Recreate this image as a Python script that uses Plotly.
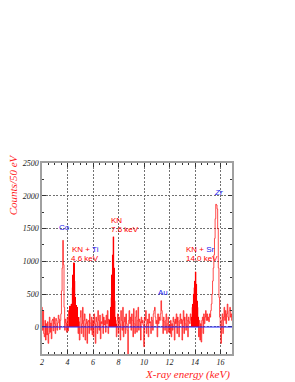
import plotly.graph_objects as go

# 50 eV bins, bin centres from 2.0 keV
bin_start = 2.0
bin_width = 0.05
counts = [
    # 2.0 - 2.95
    300, -50, 250, -100, -150, 100, -200, 50, -120, 80, -250, -100, 150, -80, 60, -180, 100, 120, -60, 150,
    # 3.0 - 3.95
    50, -100, 130, 100, -50, 60, 180, 120, -40, 100, 200, 550, 900, 1320, 950, 300, -50, 120, 60, -80,
    # 4.0 - 4.95
    150, -60, 250, 100, 320, 300, 350, 320, 600, 800, 980, 700, 450, 330, 250, 300, 150, -100, 80, -200,
    # 5.0 - 5.95
    150, 250, -100, 50, 300, -150, 100, 200, -200, 50, 120, -250, 80, 100, -100, 200, 60, -50, 150, -120,
    # 6.0 - 6.95
    100, -150, 200, 50, -250, 150, 80, -100, 250, 100, -50, 180, -180, 80, 50, 200, -100, 150, 30, 100,
    # 7.0 - 7.95
    -80, 180, 50, 250, -100, 120, 80, 100, 300, 450, 800, 1100, 1375, 900, 400, 150, 50, -150, 100, 200,
    # 8.0 - 8.95
    -100, 150, 50, -200, 250, 100, -50, 300, -150, 80, 150, -100, 200, 50, -50, -420, 100, 250, 50, 150,
    # 9.0 - 9.95
    -50, 200, 100, -150, 280, 50, -100, 150, 250, -80, 100, 300, -50, 120, 80, -200, 150, 60, 100, 30,
    # 10.0 - 10.95
    -300, 150, 100, 250, -100, 50, 120, -150, 200, 60, 80, -100, 150, 100, -50, 200, 250, 300, 150, 50,
    # 11.0 - 11.95
    100, -150, 200, 50, 150, 100, 200, 400, 250, 100, -100, 150, 80, -50, 100, 200, -100, 50, 150, -80,
    # 12.0 - 12.95
    30, -100, 100, -150, 50, -50, 150, 80, -200, 120, 50, 200, -100, 150, 80, -150, 100, 200, 50, 120,
    # 13.0 - 13.95
    -200, 100, 250, -100, 150, 50, -50, 200, 100, -150, 150, 80, 50, 200, 100, 150, 300, 350, 500, 600,
    # 14.0 - 14.95
    700, 840, 650, 400, 300, 150, -150, 100, -200, 50, -230, 100, 150, -100, 200, 50, 150, 250, 100, 200,
    # 15.0 - 15.95
    100, 150, 80, 200, 150, 250, 350, 500, 700, 900, 1100, 1350, 1650, 1870, 1860, 1800, 1500, 900, 450, 150,
    # 16.0 - 16.95
    0, -250, 100, 200, -100, 150, 300, 100, 250, 50, 200, 350, 150, 100, 250, 300, 150, 200, 100, 250,
]
energy = [round(bin_start + i * bin_width, 3) for i in range(len(counts))]

# KN peak regions drawn filled (keV)
kn_regions = [(4.2, 4.8), (7.35, 7.8), (13.75, 14.25)]

x_ticks = [2, 4, 6, 8, 10, 12, 14, 16]
y_ticks = [0, 500, 1000, 1500, 2000, 2500]

labels = [
    # text, x (keV), y (counts), anchor
    ("<span style='color:#2222ee'>Co</span>", 3.73, 1510, "center"),
    ("KN + <span style='color:#2222ee'>Ti</span>", 4.2, 1175, "left"),
    ("4.6 keV", 4.1, 1045, "left"),
    ("KN", 7.25, 1630, "left"),
    ("7.6 keV", 7.25, 1480, "left"),
    ("<span style='color:#2222ee'>Au</span>", 11.45, 530, "center"),
    ("KN + <span style='color:#2222ee'>Sr</span>", 13.15, 1175, "left"),
    ("14.0 keV", 13.1, 1045, "left"),
    ("<span style='color:#2222ee'><i>Zr</i></span>", 15.88, 2050, "center"),
]

fig = go.Figure()

fig.add_trace(go.Scatter(
    x=energy, y=counts, mode="lines", line_shape="hvh",
    line=dict(color="rgba(255,0,0,0.7)", width=1), showlegend=False,
))

fx, fy = [], []
for e, c in zip(energy, counts):
    for lo, hi in kn_regions:
        if lo - 1e-9 <= e <= hi + 1e-9:
            fx.append(e)
            fy.append(c)
fig.add_trace(go.Bar(
    x=fx, y=fy, width=bin_width, marker=dict(color="#ff0000", line=dict(width=0)),
    showlegend=False,
))

fig.add_hline(y=0, line=dict(color="rgba(40,40,255,0.7)", width=1.5))

for text, xx, yy, anc in labels:
    fig.add_annotation(
        x=xx, y=yy, text=text, showarrow=False, xanchor=anc,
        yanchor="middle", font=dict(family="Liberation Sans, Arial", size=8, color="#ff0000"),
    )

fig.add_annotation(
    xref="paper", yref="paper", x=-0.148, y=1.058, xanchor="center", yanchor="top",
    text="Counts/50 eV", textangle=-90, showarrow=False,
    font=dict(family="Liberation Serif, Times New Roman", size=11, color="#ff2020", style="italic"),
)
fig.add_annotation(
    xref="paper", yref="paper", x=1.0, y=-0.105, xanchor="right", yanchor="middle",
    text="X-ray energy (keV)", showarrow=False,
    font=dict(family="Liberation Serif, Times New Roman", size=11, color="#ff2020", style="italic"),
)

axis_common = dict(
    showline=True, linecolor="#a0a0a0", linewidth=1.5, mirror="allticks",
    ticks="inside", ticklen=4, tickcolor="#333333", tickwidth=1,
    showgrid=True, gridcolor="#707070", gridwidth=0.7, griddash="2px,1.5px",
    zeroline=False,
    tickfont=dict(family="Liberation Serif, Times New Roman", size=8, color="#222222", style="italic"),
)

fig.update_xaxes(
    range=[2, 16.9], tickvals=x_ticks, ticktext=[str(v) for v in x_ticks],
    minor=dict(dtick=0.5, tick0=2, ticks="inside", ticklen=2.5, tickcolor="#333333", showgrid=False),
    **axis_common,
)
fig.update_yaxes(
    range=[-412, 2500], tickvals=y_ticks, ticktext=[str(v) for v in y_ticks],
    minor=dict(dtick=250, tick0=0, ticks="inside", ticklen=2.5, tickcolor="#333333", showgrid=False),
    **axis_common,
)

# page body has an 8 px margin, so the figure is sized to fit the window
fig.update_layout(
    width=287, height=374,
    margin=dict(l=34, r=63, t=155, b=28),
    paper_bgcolor="white", plot_bgcolor="white",
    bargap=0, showlegend=False,
)

fig.write_html("out.html")
